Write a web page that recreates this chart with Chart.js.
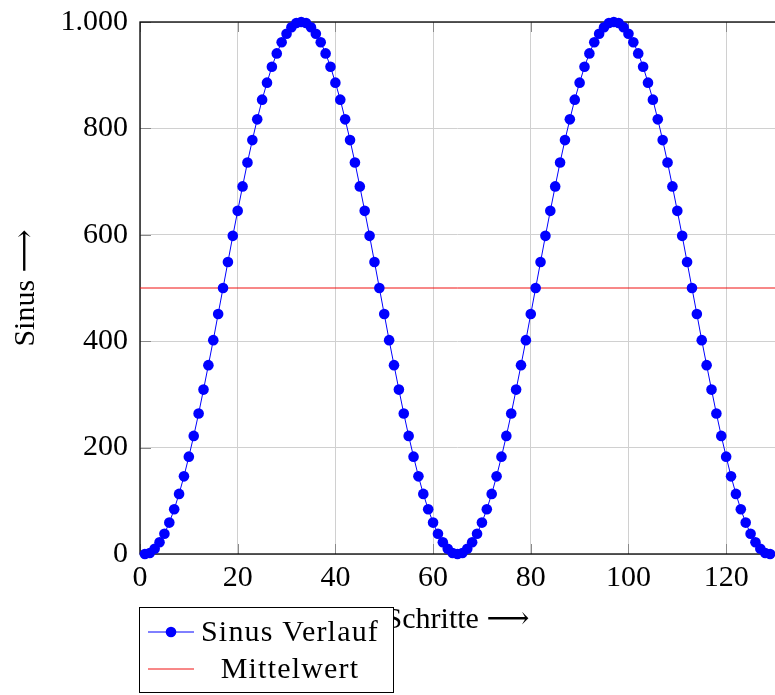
<!DOCTYPE html>
<html>
<head>
<meta charset="utf-8">
<script src="https://cdn.jsdelivr.net/npm/chart.js@4"></script>
<style>
  html, body { margin: 0; padding: 0; background: #fff; }
  canvas { display: block; }
</style>
</head>
<body>
<canvas id="chart" width="775" height="695"></canvas>
<script>
// Schritte (x) und Sinuswerte (y)
const steps = [
  1, 2, 3, 4, 5, 6, 7, 8, 9, 10, 11, 12, 13, 14, 15, 16, 17, 18, 19, 20,
  21, 22, 23, 24, 25, 26, 27, 28, 29, 30, 31, 32, 33, 34, 35, 36, 37, 38, 39, 40,
  41, 42, 43, 44, 45, 46, 47, 48, 49, 50, 51, 52, 53, 54, 55, 56, 57, 58, 59, 60,
  61, 62, 63, 64, 65, 66, 67, 68, 69, 70, 71, 72, 73, 74, 75, 76, 77, 78, 79, 80,
  81, 82, 83, 84, 85, 86, 87, 88, 89, 90, 91, 92, 93, 94, 95, 96, 97, 98, 99, 100,
  101, 102, 103, 104, 105, 106, 107, 108, 109, 110, 111, 112, 113, 114, 115, 116, 117, 118, 119, 120,
  121, 122, 123, 124, 125, 126, 127, 128, 129
];
const sinusValues = [
  0, 2, 10, 22, 38, 59, 84, 113, 146, 183, 222, 264, 309, 355, 402, 451, 500,
  549, 598, 645, 691, 736, 778, 817, 854, 886, 916, 941, 962, 978, 990, 998, 1000,
  998, 990, 978, 962, 941, 916, 886, 854, 817, 778, 736, 691, 645, 598, 549, 500,
  451, 402, 355, 309, 264, 222, 183, 146, 113, 84, 59, 38, 22, 10, 2, 0,
  2, 10, 22, 38, 59, 84, 113, 146, 183, 222, 264, 309, 355, 402, 451, 500,
  549, 598, 645, 691, 736, 778, 817, 854, 886, 916, 941, 962, 978, 990, 998, 1000,
  998, 990, 978, 962, 941, 916, 886, 854, 817, 778, 736, 691, 645, 598, 549, 500,
  451, 402, 355, 309, 264, 222, 183, 146, 113, 84, 59, 38, 22, 10, 2, 0
];
const meanX = [0, 130];
const meanY = [500, 500];

const seriesLabels = ['Sinus Verlauf', 'Mittelwert'];
const xTicks = [0, 20, 40, 60, 80, 100, 120];
const yTicks = [0, 200, 400, 600, 800, 1000];

const FONT = "'Liberation Serif', 'DejaVu Serif', serif";
Chart.defaults.font.family = FONT;
Chart.defaults.font.size = 30;
Chart.defaults.color = '#000';

// pgfplots-artige Achsen: Rahmen, kleine Ticks innen, Legende unten links
const pgfFrame = {
  id: 'pgfFrame',
  beforeDatasetsDraw(chart) {
    const { ctx, chartArea: a, scales } = chart;
    ctx.save();
    ctx.strokeStyle = '#8a8a8a';
    ctx.lineWidth = 1;
    ctx.beginPath();
    xTicks.forEach(v => {
      const px = Math.round(scales.x.getPixelForValue(v)) + 0.5;
      ctx.moveTo(px, a.bottom); ctx.lineTo(px, a.bottom - 10);
      ctx.moveTo(px, a.top); ctx.lineTo(px, a.top + 10);
    });
    yTicks.forEach(v => {
      const py = Math.round(scales.y.getPixelForValue(v)) + 0.5;
      ctx.moveTo(a.left, py); ctx.lineTo(a.left + 11, py);
    });
    ctx.stroke();
    ctx.strokeStyle = '#000';
    ctx.lineWidth = 1.3;
    ctx.strokeRect(a.left, a.top, a.right - a.left + 5, a.bottom - a.top);
    ctx.restore();
  },
  afterDraw(chart) {
    const { ctx } = chart;
    const ds = chart.data.datasets;
    const box = { x: 139.5, y: 607.5, w: 254, h: 85 };
    ctx.save();
    ctx.fillStyle = '#fff';
    ctx.fillRect(box.x, box.y, box.w, box.h);
    ctx.strokeStyle = '#000';
    ctx.lineWidth = 1;
    ctx.strokeRect(box.x, box.y, box.w, box.h);
    const rows = [632, 669];
    ds.forEach((d, i) => {
      const y = rows[i];
      ctx.strokeStyle = d.borderColor;
      ctx.lineWidth = 1;
      ctx.beginPath();
      ctx.moveTo(148, y); ctx.lineTo(194, y);
      ctx.stroke();
      if (d.pointRadius > 0) {
        ctx.fillStyle = d.pointBackgroundColor;
        ctx.beginPath();
        ctx.arc(171, y, d.pointRadius, 0, Math.PI * 2);
        ctx.fill();
      }
      ctx.fillStyle = '#000';
      ctx.font = '30px ' + FONT;
      ctx.letterSpacing = '1.2px';
      ctx.textAlign = 'center';
      ctx.textBaseline = 'middle';
      ctx.fillText(d.label, 290, y + 1);
    });
    ctx.restore();
  }
};

new Chart(document.getElementById('chart'), {
  type: 'line',
  data: {
    datasets: [
      {
        label: seriesLabels[0],
        data: steps.map((x, i) => ({ x, y: sinusValues[i] })),
        borderColor: '#0000ff',
        backgroundColor: '#0000ff',
        pointBackgroundColor: '#0000ff',
        pointBorderWidth: 0,
        pointRadius: 5.3,
        borderWidth: 1,
        tension: 0,
        clip: false
      },
      {
        label: seriesLabels[1],
        data: meanX.map((x, i) => ({ x, y: meanY[i] })),
        borderColor: '#f01010',
        backgroundColor: '#f01010',
        pointRadius: 0,
        borderWidth: 1,
        tension: 0
      }
    ]
  },
  options: {
    responsive: false,
    animation: false,
    layout: { autoPadding: false, padding: { top: 22, right: 0, left: 0, bottom: 57 } },
    plugins: {
      legend: { display: false },
      tooltip: { enabled: false }
    },
    scales: {
      x: {
        type: 'linear',
        min: 0,
        max: 130,
        afterFit: s => { s.height = 84; s.paddingLeft = 0; s.paddingRight = 0; },
        ticks: {
          stepSize: 20,
          includeBounds: false,
          padding: 6,
          maxRotation: 0
        },
        grid: { color: '#d0d0d0', drawTicks: false },
        border: { display: false },
        title: { display: true, text: 'Schritte \u27F6', padding: { top: 4, bottom: 0 } }
      },
      y: {
        min: 0,
        max: 1000,
        afterFit: s => { s.width = 140; s.paddingTop = 0; s.paddingBottom = 0; },
        ticks: {
          stepSize: 200,
          padding: 12,
          callback: v => v.toLocaleString('de-DE')
        },
        grid: { color: '#d0d0d0', drawTicks: false },
        border: { display: false },
        title: { display: true, text: 'Sinus \u27F6', padding: { top: 8, bottom: 4 } }
      }
    }
  },
  plugins: [pgfFrame]
});
</script>
</body>
</html>
